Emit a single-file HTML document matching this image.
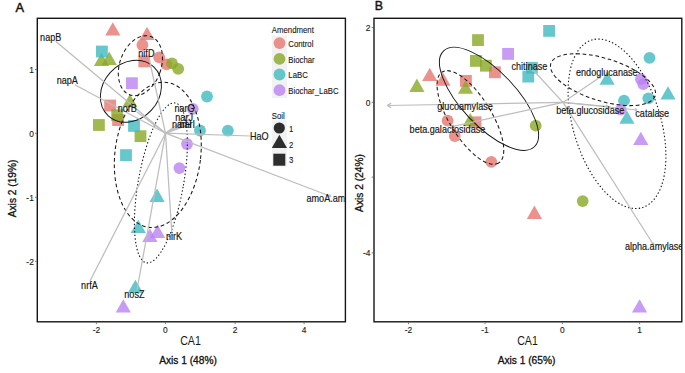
<!DOCTYPE html>
<html><head><meta charset="utf-8"><style>
html,body{margin:0;padding:0;background:#fff;}
body{width:685px;height:373px;overflow:hidden;}
svg{display:block;font-family:"Liberation Sans",sans-serif;}
</style></head><body>
<svg width="685" height="373" viewBox="0 0 685 373">
<defs>
<clipPath id="clipA"><rect x="38" y="19" width="306.7" height="302.1"/></clipPath>
<clipPath id="clipB"><rect x="374.7" y="19" width="306.4" height="302.1"/></clipPath>
</defs>
<rect width="685" height="373" fill="#fff"/>
<g clip-path="url(#clipA)">
<path d="M112.8 22.2L120.40 35.50L105.20 35.50Z" fill="rgb(231,119,111)" fill-opacity="0.8"/>
<path d="M147 26.8L154.60 40.10L139.40 40.10Z" fill="rgb(231,119,111)" fill-opacity="0.8"/>
<circle cx="142.4" cy="45" r="5.9" fill="rgb(231,119,111)" fill-opacity="0.8"/>
<rect x="138.4" y="55.5" width="11.8" height="11.8" fill="rgb(231,119,111)" fill-opacity="0.8"/>
<circle cx="159.2" cy="57.4" r="5.9" fill="rgb(231,119,111)" fill-opacity="0.8"/>
<circle cx="166.5" cy="64.4" r="5.9" fill="rgb(231,119,111)" fill-opacity="0.8"/>
<rect x="104.2" y="99.6" width="11.8" height="11.8" fill="rgb(231,119,111)" fill-opacity="0.8"/>
<rect x="112.2" y="114.2" width="11.8" height="11.8" fill="rgb(231,119,111)" fill-opacity="0.8"/>
<path d="M101.5 52.8L109.10 66.10L93.90 66.10Z" fill="rgb(136,168,36)" fill-opacity="0.8"/>
<path d="M109.2 51.6L116.80 64.90L101.60 64.90Z" fill="rgb(136,168,36)" fill-opacity="0.8"/>
<circle cx="172" cy="63.4" r="5.9" fill="rgb(136,168,36)" fill-opacity="0.8"/>
<circle cx="178.2" cy="68.8" r="5.9" fill="rgb(136,168,36)" fill-opacity="0.8"/>
<rect x="111.3" y="109.3" width="11.8" height="11.8" fill="rgb(136,168,36)" fill-opacity="0.8"/>
<rect x="93" y="119.1" width="11.8" height="11.8" fill="rgb(136,168,36)" fill-opacity="0.8"/>
<path d="M129.9 94L137.50 107.30L122.30 107.30Z" fill="rgb(136,168,36)" fill-opacity="0.8"/>
<rect x="134.6" y="130.3" width="11.8" height="11.8" fill="rgb(136,168,36)" fill-opacity="0.8"/>
<rect x="96" y="45.6" width="11.8" height="11.8" fill="rgb(64,186,191)" fill-opacity="0.8"/>
<rect x="128.1" y="120" width="11.8" height="11.8" fill="rgb(64,186,191)" fill-opacity="0.8"/>
<rect x="120.1" y="149.2" width="11.8" height="11.8" fill="rgb(64,186,191)" fill-opacity="0.8"/>
<circle cx="207" cy="96.5" r="5.9" fill="rgb(64,186,191)" fill-opacity="0.8"/>
<circle cx="200" cy="130.5" r="5.9" fill="rgb(64,186,191)" fill-opacity="0.8"/>
<circle cx="227.9" cy="130.6" r="5.9" fill="rgb(64,186,191)" fill-opacity="0.8"/>
<path d="M157.1 188.6L164.70 201.90L149.50 201.90Z" fill="rgb(64,186,191)" fill-opacity="0.8"/>
<path d="M138.3 219.7L145.90 233.00L130.70 233.00Z" fill="rgb(64,186,191)" fill-opacity="0.8"/>
<path d="M135.4 279.8L143.00 293.10L127.80 293.10Z" fill="rgb(64,186,191)" fill-opacity="0.8"/>
<rect x="126" y="77.3" width="11.8" height="11.8" fill="rgb(186,130,243)" fill-opacity="0.8"/>
<circle cx="192.8" cy="108.8" r="5.9" fill="rgb(186,130,243)" fill-opacity="0.8"/>
<circle cx="187" cy="144" r="5.9" fill="rgb(186,130,243)" fill-opacity="0.8"/>
<circle cx="179.4" cy="168.1" r="5.9" fill="rgb(186,130,243)" fill-opacity="0.8"/>
<path d="M157.6 224.6L165.20 237.90L150.00 237.90Z" fill="rgb(186,130,243)" fill-opacity="0.8"/>
<path d="M149.9 228.6L157.50 241.90L142.30 241.90Z" fill="rgb(186,130,243)" fill-opacity="0.8"/>
<path d="M123.3 299.3L130.90 312.60L115.70 312.60Z" fill="rgb(186,130,243)" fill-opacity="0.8"/>
<ellipse cx="140.4" cy="65.7" rx="20.7" ry="31" transform="rotate(19.6 140.4 65.7)" fill="none" stroke="#161616" stroke-width="1.05" stroke-dasharray="3.7 2.7"/>
<ellipse cx="130.9" cy="91.2" rx="27.9" ry="33.4" transform="rotate(42.6 130.9 91.2)" fill="none" stroke="#161616" stroke-width="0.95"/>
<ellipse cx="157.8" cy="154.9" rx="42.9" ry="73" transform="rotate(6.9 157.8 154.9)" fill="none" stroke="#161616" stroke-width="1.05" stroke-dasharray="3.7 2.7"/>
<ellipse cx="160.9" cy="182.9" rx="22.6" ry="81.2" transform="rotate(10.2 160.9 182.9)" fill="none" stroke="#161616" stroke-width="1.1" stroke-dasharray="1.4 2.2"/>
<line x1="165.5" y1="133.2" x2="55.6" y2="41.2" stroke="#bdbdbd" stroke-width="1.25"/>
<line x1="165.5" y1="133.2" x2="74.8" y2="84.8" stroke="#bdbdbd" stroke-width="1.25"/>
<line x1="165.5" y1="133.2" x2="149" y2="58" stroke="#bdbdbd" stroke-width="1.25"/>
<line x1="165.5" y1="133.2" x2="137" y2="112" stroke="#bdbdbd" stroke-width="1.25"/>
<line x1="165.5" y1="133.2" x2="195" y2="111" stroke="#bdbdbd" stroke-width="1.25"/><line x1="195" y1="111" x2="192.82" y2="111.27" stroke="#bdbdbd" stroke-width="1.25"/><line x1="195" y1="111" x2="194.13" y2="113.02" stroke="#bdbdbd" stroke-width="1.25"/>
<line x1="165.5" y1="133.2" x2="189" y2="120" stroke="#bdbdbd" stroke-width="1.25"/>
<line x1="165.5" y1="133.2" x2="182" y2="126" stroke="#bdbdbd" stroke-width="1.25"/>
<line x1="165.5" y1="133.2" x2="186" y2="126" stroke="#bdbdbd" stroke-width="1.25"/>
<line x1="165.5" y1="133.2" x2="250" y2="136" stroke="#bdbdbd" stroke-width="1.25"/>
<line x1="165.5" y1="133.2" x2="331" y2="196.5" stroke="#bdbdbd" stroke-width="1.25"/><line x1="331" y1="196.5" x2="329.48" y2="194.64" stroke="#bdbdbd" stroke-width="1.25"/><line x1="331" y1="196.5" x2="328.63" y2="196.87" stroke="#bdbdbd" stroke-width="1.25"/>
<line x1="165.5" y1="133.2" x2="172" y2="236" stroke="#bdbdbd" stroke-width="1.25"/>
<line x1="165.5" y1="133.2" x2="137" y2="290" stroke="#bdbdbd" stroke-width="1.25"/>
<line x1="165.5" y1="133.2" x2="90" y2="281" stroke="#bdbdbd" stroke-width="1.25"/>
<text transform="translate(40.1 40.6) scale(0.857 1)" font-size="10.6" text-anchor="start" fill="#161616" stroke="#161616" stroke-width="0.18">napB</text>
<text transform="translate(56.7 84.2) scale(0.857 1)" font-size="10.6" text-anchor="start" fill="#161616" stroke="#161616" stroke-width="0.18">napA</text>
<text transform="translate(138.3 57.2) scale(0.857 1)" font-size="10.6" text-anchor="start" fill="#161616" stroke="#161616" stroke-width="0.18">nifD</text>
<text transform="translate(117.7 112.3) scale(0.857 1)" font-size="10.6" text-anchor="start" fill="#161616" stroke="#161616" stroke-width="0.18">norB</text>
<text transform="translate(174.4 112.2) scale(0.857 1)" font-size="10.6" text-anchor="start" fill="#161616" stroke="#161616" stroke-width="0.18">narG</text>
<text transform="translate(175.3 121.1) scale(0.857 1)" font-size="10.6" text-anchor="start" fill="#161616" stroke="#161616" stroke-width="0.18">narJ</text>
<text transform="translate(172 128.2) scale(0.857 1)" font-size="10.6" text-anchor="start" fill="#161616" stroke="#161616" stroke-width="0.18">narH</text>
<text transform="translate(179.5 128.2) scale(0.857 1)" font-size="10.6" text-anchor="start" fill="#161616" stroke="#161616" stroke-width="0.18">narI</text>
<text transform="translate(249.9 140.4) scale(0.857 1)" font-size="10.6" text-anchor="start" fill="#161616" stroke="#161616" stroke-width="0.18">HaO</text>
<text transform="translate(306.5 201.7) scale(0.857 1)" font-size="10.6" text-anchor="start" fill="#161616" stroke="#161616" stroke-width="0.18">amoA.am</text>
<text transform="translate(166 240.2) scale(0.857 1)" font-size="10.6" text-anchor="start" fill="#161616" stroke="#161616" stroke-width="0.18">nirK</text>
<text transform="translate(124.3 297.7) scale(0.857 1)" font-size="10.6" text-anchor="start" fill="#161616" stroke="#161616" stroke-width="0.18">nosZ</text>
<text transform="translate(81.1 289.3) scale(0.857 1)" font-size="10.6" text-anchor="start" fill="#161616" stroke="#161616" stroke-width="0.18">nrfA</text>
</g>
<g clip-path="url(#clipB)">
<path d="M429.7 67.7L437.30 81.00L422.10 81.00Z" fill="rgb(231,119,111)" fill-opacity="0.8"/>
<path d="M443 72.4L450.60 85.70L435.40 85.70Z" fill="rgb(231,119,111)" fill-opacity="0.8"/>
<rect x="460" y="75" width="11.8" height="11.8" fill="rgb(231,119,111)" fill-opacity="0.8"/>
<rect x="489" y="66.4" width="11.8" height="11.8" fill="rgb(231,119,111)" fill-opacity="0.8"/>
<rect x="469.6" y="116.4" width="11.8" height="11.8" fill="rgb(231,119,111)" fill-opacity="0.8"/>
<circle cx="447.6" cy="120.7" r="5.9" fill="rgb(231,119,111)" fill-opacity="0.8"/>
<circle cx="454.8" cy="136" r="5.9" fill="rgb(231,119,111)" fill-opacity="0.8"/>
<circle cx="491.3" cy="161.8" r="5.9" fill="rgb(231,119,111)" fill-opacity="0.8"/>
<path d="M534.4 205.6L542.00 218.90L526.80 218.90Z" fill="rgb(231,119,111)" fill-opacity="0.8"/>
<rect x="472.1" y="34.2" width="11.8" height="11.8" fill="rgb(136,168,36)" fill-opacity="0.8"/>
<rect x="470" y="55" width="11.8" height="11.8" fill="rgb(136,168,36)" fill-opacity="0.8"/>
<rect x="480" y="59.8" width="11.8" height="11.8" fill="rgb(136,168,36)" fill-opacity="0.8"/>
<path d="M416.9 78.6L424.50 91.90L409.30 91.90Z" fill="rgb(136,168,36)" fill-opacity="0.8"/>
<path d="M465.5 80.4L473.10 93.70L457.90 93.70Z" fill="rgb(136,168,36)" fill-opacity="0.8"/>
<path d="M470.3 112.9L477.90 126.20L462.70 126.20Z" fill="rgb(136,168,36)" fill-opacity="0.8"/>
<circle cx="535.7" cy="125.7" r="5.9" fill="rgb(136,168,36)" fill-opacity="0.8"/>
<circle cx="582.7" cy="201.1" r="5.9" fill="rgb(136,168,36)" fill-opacity="0.8"/>
<rect x="543.2" y="25" width="11.8" height="11.8" fill="rgb(64,186,191)" fill-opacity="0.8"/>
<rect x="526" y="61.9" width="11.8" height="11.8" fill="rgb(64,186,191)" fill-opacity="0.8"/>
<rect x="522.4" y="70.7" width="11.8" height="11.8" fill="rgb(64,186,191)" fill-opacity="0.8"/>
<path d="M607.1 71.5L614.70 84.80L599.50 84.80Z" fill="rgb(64,186,191)" fill-opacity="0.8"/>
<circle cx="649.5" cy="57.8" r="5.9" fill="rgb(64,186,191)" fill-opacity="0.8"/>
<circle cx="648.3" cy="98.3" r="5.9" fill="rgb(64,186,191)" fill-opacity="0.8"/>
<path d="M668 86.3L675.60 99.60L660.40 99.60Z" fill="rgb(64,186,191)" fill-opacity="0.8"/>
<circle cx="624" cy="100.6" r="5.9" fill="rgb(64,186,191)" fill-opacity="0.8"/>
<path d="M626.9 110.5L634.50 123.80L619.30 123.80Z" fill="rgb(64,186,191)" fill-opacity="0.8"/>
<rect x="502.2" y="48" width="11.8" height="11.8" fill="rgb(186,130,243)" fill-opacity="0.8"/>
<circle cx="641" cy="79.2" r="5.9" fill="rgb(186,130,243)" fill-opacity="0.8"/>
<circle cx="643.3" cy="84.2" r="5.9" fill="rgb(186,130,243)" fill-opacity="0.8"/>
<circle cx="620.8" cy="109.6" r="5.9" fill="rgb(186,130,243)" fill-opacity="0.8"/>
<path d="M640.8 131.8L648.40 145.10L633.20 145.10Z" fill="rgb(186,130,243)" fill-opacity="0.8"/>
<path d="M639.6 299.2L647.20 312.50L632.00 312.50Z" fill="rgb(186,130,243)" fill-opacity="0.8"/>
<ellipse cx="489" cy="98.8" rx="66" ry="27.3" transform="rotate(46.6 489 98.8)" fill="none" stroke="#161616" stroke-width="0.95"/>
<ellipse cx="470.4" cy="117.5" rx="53.6" ry="20.9" transform="rotate(58.2 470.4 117.5)" fill="none" stroke="#161616" stroke-width="1.05" stroke-dasharray="3.7 2.7"/>
<ellipse cx="603" cy="79.7" rx="54.6" ry="21.3" transform="rotate(17.1 603 79.7)" fill="none" stroke="#161616" stroke-width="1.05" stroke-dasharray="3.7 2.7"/>
<ellipse cx="617" cy="123.8" rx="43.8" ry="87.5" transform="rotate(-16.7 617 123.8)" fill="none" stroke="#161616" stroke-width="1.1" stroke-dasharray="1.4 2.2"/>
<line x1="563.0" y1="102.4" x2="452" y2="126.6" stroke="#bdbdbd" stroke-width="1.25"/><line x1="452" y1="126.6" x2="454.38" y2="127.35" stroke="#bdbdbd" stroke-width="1.25"/><line x1="452" y1="126.6" x2="453.86" y2="124.92" stroke="#bdbdbd" stroke-width="1.25"/>
<line x1="563.0" y1="102.4" x2="532.6" y2="69.5" stroke="#bdbdbd" stroke-width="1.25"/><line x1="532.6" y1="69.5" x2="533.16" y2="71.94" stroke="#bdbdbd" stroke-width="1.25"/><line x1="532.6" y1="69.5" x2="534.98" y2="70.25" stroke="#bdbdbd" stroke-width="1.25"/>
<line x1="563.0" y1="102.4" x2="601" y2="76.5" stroke="#bdbdbd" stroke-width="1.25"/><line x1="601" y1="76.5" x2="598.51" y2="76.70" stroke="#bdbdbd" stroke-width="1.25"/><line x1="601" y1="76.5" x2="599.91" y2="78.75" stroke="#bdbdbd" stroke-width="1.25"/>
<line x1="563.0" y1="102.4" x2="608" y2="106.5" stroke="#bdbdbd" stroke-width="1.25"/><line x1="608" y1="106.5" x2="605.95" y2="105.07" stroke="#bdbdbd" stroke-width="1.25"/><line x1="608" y1="106.5" x2="605.73" y2="107.54" stroke="#bdbdbd" stroke-width="1.25"/>
<line x1="563.0" y1="102.4" x2="637" y2="110" stroke="#bdbdbd" stroke-width="1.25"/><line x1="637" y1="110" x2="634.97" y2="108.54" stroke="#bdbdbd" stroke-width="1.25"/><line x1="637" y1="110" x2="634.71" y2="111.01" stroke="#bdbdbd" stroke-width="1.25"/>
<line x1="563.0" y1="102.4" x2="653.7" y2="245" stroke="#bdbdbd" stroke-width="1.25"/><line x1="653.7" y1="245" x2="653.58" y2="242.50" stroke="#bdbdbd" stroke-width="1.25"/><line x1="653.7" y1="245" x2="651.49" y2="243.84" stroke="#bdbdbd" stroke-width="1.25"/>
<line x1="563.0" y1="102.4" x2="387.2" y2="105.5" stroke="#bdbdbd" stroke-width="1.25"/><line x1="387.2" y1="105.5" x2="391.23" y2="107.71" stroke="#bdbdbd" stroke-width="1.25"/><line x1="387.2" y1="105.5" x2="391.15" y2="103.14" stroke="#bdbdbd" stroke-width="1.25"/>
<text transform="translate(511.5 70.2) scale(0.857 1)" font-size="10.6" text-anchor="start" fill="#161616" stroke="#161616" stroke-width="0.18">chitinase</text>
<text transform="translate(576 75.6) scale(0.857 1)" font-size="10.6" text-anchor="start" fill="#161616" stroke="#161616" stroke-width="0.18">endoglucanase</text>
<text transform="translate(437.3 109.8) scale(0.857 1)" font-size="10.6" text-anchor="start" fill="#161616" stroke="#161616" stroke-width="0.18">glucoamylase</text>
<text transform="translate(409.6 132.9) scale(0.857 1)" font-size="10.6" text-anchor="start" fill="#161616" stroke="#161616" stroke-width="0.18">beta.galactosidase</text>
<text transform="translate(556.2 114.2) scale(0.857 1)" font-size="10.6" text-anchor="start" fill="#161616" stroke="#161616" stroke-width="0.18">beta.glucosidase</text>
<text transform="translate(635.3 116.8) scale(0.857 1)" font-size="10.6" text-anchor="start" fill="#161616" stroke="#161616" stroke-width="0.18">catalase</text>
<text transform="translate(624.9 250.4) scale(0.857 1)" font-size="10.6" text-anchor="start" fill="#161616" stroke="#161616" stroke-width="0.18">alpha.amylase</text>
</g>
<text transform="translate(271.8 33.4) scale(0.83 1)" font-size="9.4" text-anchor="start" fill="#161616" stroke="#161616" stroke-width="0.12">Amendment</text>
<rect x="271.8" y="35.4" width="15.2" height="62.8" fill="#f2f2f2"/>
<circle cx="279.5" cy="43.1" r="5.9" fill="rgb(231,119,111)" fill-opacity="0.8"/>
<circle cx="279.5" cy="58.8" r="5.9" fill="rgb(136,168,36)" fill-opacity="0.8"/>
<circle cx="279.5" cy="74.5" r="5.9" fill="rgb(64,186,191)" fill-opacity="0.8"/>
<circle cx="279.5" cy="90.2" r="5.9" fill="rgb(186,130,243)" fill-opacity="0.8"/>
<text transform="translate(288.3 47.0) scale(0.83 1)" font-size="9.4" text-anchor="start" fill="#161616" stroke="#161616" stroke-width="0.12">Control</text>
<text transform="translate(288.3 62.7) scale(0.83 1)" font-size="9.4" text-anchor="start" fill="#161616" stroke="#161616" stroke-width="0.12">Biochar</text>
<text transform="translate(288.3 78.4) scale(0.83 1)" font-size="9.4" text-anchor="start" fill="#161616" stroke="#161616" stroke-width="0.12">LaBC</text>
<text transform="translate(288.3 94.1) scale(0.83 1)" font-size="9.4" text-anchor="start" fill="#161616" stroke="#161616" stroke-width="0.12">Biochar_LaBC</text>
<text transform="translate(271.8 118.6) scale(0.83 1)" font-size="9.4" text-anchor="start" fill="#161616" stroke="#161616" stroke-width="0.12">Soil</text>
<rect x="271.8" y="120.3" width="15.2" height="46.5" fill="#f2f2f2"/>
<circle cx="279.3" cy="128" r="5.6" fill="#2d2d2d"/>
<path d="M279.4 134.7L287 148.1L271.8 148.1Z" fill="#2d2d2d"/>
<rect x="273.3" y="153.7" width="12" height="12" fill="#2d2d2d"/>
<text transform="translate(288.9 132.4) scale(0.83 1)" font-size="9.4" text-anchor="start" fill="#161616" stroke="#161616" stroke-width="0.12">1</text>
<text transform="translate(288.9 148.2) scale(0.83 1)" font-size="9.4" text-anchor="start" fill="#161616" stroke="#161616" stroke-width="0.12">2</text>
<text transform="translate(288.9 163.2) scale(0.83 1)" font-size="9.4" text-anchor="start" fill="#161616" stroke="#161616" stroke-width="0.12">3</text>
<rect x="37.3" y="18.3" width="308.09999999999997" height="303.5" fill="none" stroke="#161616" stroke-width="1.4"/>
<rect x="374.0" y="18.3" width="307.79999999999995" height="303.5" fill="none" stroke="#161616" stroke-width="1.4"/>
<line x1="35.0" y1="69.5" x2="36.6" y2="69.5" stroke="#555" stroke-width="0.8"/>
<text transform="translate(33.800000000000004 72.8) scale(0.9 1)" font-size="9.3" text-anchor="end" fill="#222" stroke="#222" stroke-width="0.15">1</text>
<line x1="35.0" y1="133.3" x2="36.6" y2="133.3" stroke="#555" stroke-width="0.8"/>
<text transform="translate(33.800000000000004 136.60000000000002) scale(0.9 1)" font-size="9.3" text-anchor="end" fill="#222" stroke="#222" stroke-width="0.15">0</text>
<line x1="35.0" y1="197.3" x2="36.6" y2="197.3" stroke="#555" stroke-width="0.8"/>
<text transform="translate(33.800000000000004 200.60000000000002) scale(0.9 1)" font-size="9.3" text-anchor="end" fill="#222" stroke="#222" stroke-width="0.15">-1</text>
<line x1="35.0" y1="261.3" x2="36.6" y2="261.3" stroke="#555" stroke-width="0.8"/>
<text transform="translate(33.800000000000004 264.6) scale(0.9 1)" font-size="9.3" text-anchor="end" fill="#222" stroke="#222" stroke-width="0.15">-2</text>
<line x1="96.4" y1="322.5" x2="96.4" y2="324.1" stroke="#555" stroke-width="0.8"/>
<text transform="translate(96.4 332.6) scale(0.9 1)" font-size="9.3" text-anchor="middle" fill="#222" stroke="#222" stroke-width="0.15">-2</text>
<line x1="165.4" y1="322.5" x2="165.4" y2="324.1" stroke="#555" stroke-width="0.8"/>
<text transform="translate(165.4 332.6) scale(0.9 1)" font-size="9.3" text-anchor="middle" fill="#222" stroke="#222" stroke-width="0.15">0</text>
<line x1="235.1" y1="322.5" x2="235.1" y2="324.1" stroke="#555" stroke-width="0.8"/>
<text transform="translate(235.1 332.6) scale(0.9 1)" font-size="9.3" text-anchor="middle" fill="#222" stroke="#222" stroke-width="0.15">2</text>
<line x1="304.1" y1="322.5" x2="304.1" y2="324.1" stroke="#555" stroke-width="0.8"/>
<text transform="translate(304.1 332.6) scale(0.9 1)" font-size="9.3" text-anchor="middle" fill="#222" stroke="#222" stroke-width="0.15">4</text>
<line x1="371.7" y1="27.5" x2="373.3" y2="27.5" stroke="#555" stroke-width="0.8"/>
<text transform="translate(370.5 30.8) scale(0.9 1)" font-size="9.3" text-anchor="end" fill="#222" stroke="#222" stroke-width="0.15">2</text>
<line x1="371.7" y1="102.3" x2="373.3" y2="102.3" stroke="#555" stroke-width="0.8"/>
<text transform="translate(370.5 105.6) scale(0.9 1)" font-size="9.3" text-anchor="end" fill="#222" stroke="#222" stroke-width="0.15">0</text>
<line x1="371.7" y1="177.1" x2="373.3" y2="177.1" stroke="#555" stroke-width="0.8"/>
<line x1="371.7" y1="252.9" x2="373.3" y2="252.9" stroke="#555" stroke-width="0.8"/>
<text transform="translate(370.5 256.2) scale(0.9 1)" font-size="9.3" text-anchor="end" fill="#222" stroke="#222" stroke-width="0.15">-4</text>
<line x1="408.5" y1="322.5" x2="408.5" y2="324.1" stroke="#555" stroke-width="0.8"/>
<text transform="translate(408.5 332.6) scale(0.9 1)" font-size="9.3" text-anchor="middle" fill="#222" stroke="#222" stroke-width="0.15">-2</text>
<line x1="485" y1="322.5" x2="485" y2="324.1" stroke="#555" stroke-width="0.8"/>
<text transform="translate(485 332.6) scale(0.9 1)" font-size="9.3" text-anchor="middle" fill="#222" stroke="#222" stroke-width="0.15">-1</text>
<line x1="562.4" y1="322.5" x2="562.4" y2="324.1" stroke="#555" stroke-width="0.8"/>
<text transform="translate(562.4 332.6) scale(0.9 1)" font-size="9.3" text-anchor="middle" fill="#222" stroke="#222" stroke-width="0.15">0</text>
<line x1="639.6" y1="322.5" x2="639.6" y2="324.1" stroke="#555" stroke-width="0.8"/>
<text transform="translate(639.6 332.6) scale(0.9 1)" font-size="9.3" text-anchor="middle" fill="#222" stroke="#222" stroke-width="0.15">1</text>
<text transform="translate(15.6 11.8) scale(1 1)" font-size="12.8" text-anchor="start" fill="#111" stroke="#111" stroke-width="0.45">A</text>
<text transform="translate(374.8 9.6) scale(1 1)" font-size="12.3" text-anchor="start" fill="#111" stroke="#111" stroke-width="0.45">B</text>
<text transform="translate(190.5 345) scale(0.86 1)" font-size="12.3" text-anchor="middle" fill="#161616">CA1</text>
<text transform="translate(527.5 345) scale(0.86 1)" font-size="12.3" text-anchor="middle" fill="#161616">CA1</text>
<text transform="translate(188 363.7) scale(1 1)" font-size="10.2" text-anchor="middle" fill="#111" stroke="#111" stroke-width="0.3">Axis 1 (48%)</text>
<text transform="translate(526.5 363.7) scale(1 1)" font-size="10.2" text-anchor="middle" fill="#111" stroke="#111" stroke-width="0.3">Axis 1 (65%)</text>
<g transform="translate(16.3 188.4) rotate(-90)"><text transform="translate(0 0) scale(1 1)" font-size="10.2" text-anchor="middle" fill="#111" stroke="#111" stroke-width="0.3">Axis 2 (19%)</text></g>
<rect x="354" y="150" width="12" height="65" fill="#fff"/>
<g transform="translate(363.4 183) rotate(-90)"><text transform="translate(0 0) scale(1 1)" font-size="10.2" text-anchor="middle" fill="#111" stroke="#111" stroke-width="0.3">Axis 2 (24%)</text></g>
</svg>
</body></html>
